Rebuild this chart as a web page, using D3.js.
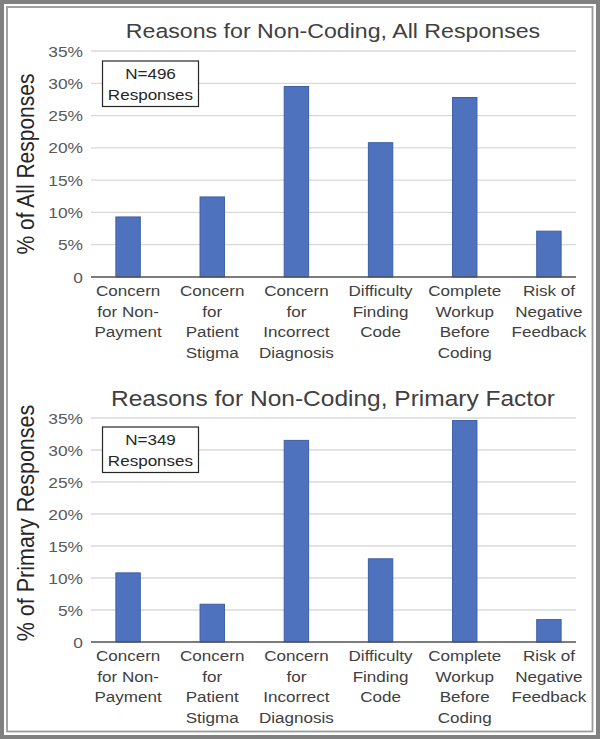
<!DOCTYPE html>
<html>
<head>
<meta charset="utf-8">
<script src="https://cdn.jsdelivr.net/npm/d3@7"></script>
<style>
body{margin:0;background:#fff;}
svg{display:block;font-family:"Liberation Sans",Arial,sans-serif;}
</style>
</head>
<body>
<script>
// categories (multi-line labels)
var categories=[
  ["Concern","for Non-","Payment"],
  ["Concern","for","Patient","Stigma"],
  ["Concern","for","Incorrect","Diagnosis"],
  ["Difficulty","Finding","Code"],
  ["Complete","Workup","Before","Coding"],
  ["Risk of","Negative","Feedback"]
]
var allResponses=[9.3,12.4,29.5,20.8,27.8,7.1]
var primaryFactor=[10.8,5.9,31.5,13.0,34.6,3.5]
var yTicks=[0,5,10,15,20,25,30,35]

var width=600,height=739
var sx=1.12 // the original picture is a bit stretched sideways

var svg=d3.select("body").append("svg")
  .attr("width",width)
  .attr("height",height)

// frame
svg.append("rect").attr("x",2).attr("y",2).attr("width",width-4).attr("height",height-4)
  .attr("fill","none").attr("stroke","#808080").attr("stroke-width",4)
svg.append("rect").attr("x",7).attr("y",7).attr("width",width-14.5).attr("height",height-14.5)
  .attr("fill","none").attr("stroke","#9a9a9a").attr("stroke-width",1.8)

// text placed at (x,y) and stretched horizontally
function stext(g,x,y,size,fill,anchor,s){
  return g.append("text")
    .attr("transform","translate("+x+","+y+") scale("+(s||sx)+",1)")
    .attr("text-anchor",anchor).attr("font-size",size).attr("fill",fill)
}

var charts=[
  {title:"Reasons for Non-Coding, All Responses",tsize:20.5,tsx:1.13,ylab:"% of All Responses",ysize:21,ymid:164,n:"N=496",values:allResponses,top:51,bottom:277,titleY:38,boxY:61,labelY:296},
  {title:"Reasons for Non-Coding, Primary Factor",tsize:21.5,tsx:1.14,ylab:"% of Primary Responses",ysize:21.5,ymid:523,n:"N=349",values:primaryFactor,top:418,bottom:642,titleY:406,boxY:427,labelY:661}
]

charts.forEach(function(c){
  var g=svg.append("g")
  var x=d3.scaleBand()
    .domain(d3.range(categories.length))
    .range([86,591])
    .paddingInner(0.71)
    .paddingOuter(0.355)
  var y=d3.scaleLinear().domain([0,35]).range([c.bottom,c.top])

  // gridlines
  g.selectAll(".grid").data(yTicks.slice(1)).enter().append("line")
    .attr("x1",91).attr("x2",576)
    .attr("y1",function(d){return y(d)}).attr("y2",function(d){return y(d)})
    .attr("stroke","#d9d9d9").attr("stroke-width",1.3)

  // tick labels
  yTicks.forEach(function(d){
    stext(g,83,y(d)+5.5,15.5,"#595959","end").text(d==0?"0":d+"%")
  })

  // bars
  g.selectAll(".bar").data(c.values).enter().append("rect")
    .attr("x",function(d,i){return x(i)})
    .attr("width",x.bandwidth())
    .attr("y",function(d){return y(d)})
    .attr("height",function(d){return y(0)-y(d)})
    .attr("fill","#4e72be").attr("stroke","#3d5fa6").attr("stroke-width",1)

  // axis line
  g.append("line").attr("x1",91).attr("x2",576)
    .attr("y1",y(0)).attr("y2",y(0))
    .attr("stroke","#505050").attr("stroke-width",1.5)

  // category labels
  categories.forEach(function(lines,i){
    lines.forEach(function(l,j){
      stext(g,x(i)+x.bandwidth()/2,c.labelY+j*20.5,15.5,"#404040","middle",1.1).text(l)
    })
  })

  // title
  stext(g,333,c.titleY,c.tsize,"#404040","middle",c.tsx).text(c.title)

  // y label
  g.append("text")
    .attr("transform","translate(34,"+c.ymid+") scale(1.1,1) rotate(-90)")
    .attr("text-anchor","middle").attr("font-size",c.ysize).attr("fill","#262626")
    .text(c.ylab)

  // N box
  g.append("rect").attr("x",102.5).attr("y",c.boxY).attr("width",96).attr("height",45.5)
    .attr("fill","#fff").attr("stroke","#262626").attr("stroke-width",1.2)
  stext(g,150.5,c.boxY+18,15.5,"#262626","middle",1.1).text(c.n)
  stext(g,150.5,c.boxY+38.5,15.5,"#262626","middle",1.1).text("Responses")
})
</script>
</body>
</html>
